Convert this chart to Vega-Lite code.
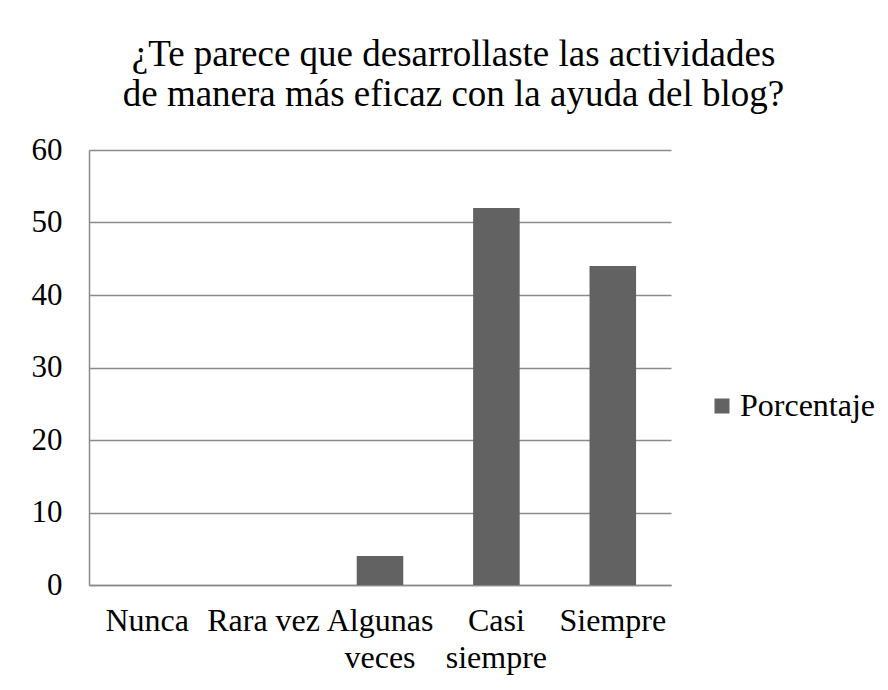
{
  "$schema": "https://vega.github.io/schema/vega-lite/v6.json",
  "width": 582,
  "height": 435,
  "autosize": {"type": "none"},
  "padding": {"left": 89, "top": 150, "right": 217, "bottom": 105},
  "background": "white",
  "title": {
    "text": ["¿Te parece que desarrollaste las actividades", "de manera más eficaz con la ayuda del blog?"],
    "font": "Liberation Serif",
    "fontSize": 37,
    "fontWeight": "normal",
    "lineHeight": 40,
    "color": "black",
    "anchor": "middle",
    "frame": "bounds",
    "offset": 20
  },
  "data": {
    "values": [
      {"categoria": "Nunca", "porcentaje": 0},
      {"categoria": "Rara vez", "porcentaje": 0},
      {"categoria": "Algunas veces", "porcentaje": 4},
      {"categoria": "Casi siempre", "porcentaje": 52},
      {"categoria": "Siempre", "porcentaje": 44}
    ]
  },
  "mark": {"type": "bar"},
  "encoding": {
    "x": {
      "field": "categoria",
      "type": "nominal",
      "sort": null,
      "scale": {"paddingInner": 0.6, "paddingOuter": 0.3},
      "axis": {
        "title": null,
        "labelAngle": 0,
        "labelFont": "Liberation Serif",
        "labelFontSize": 32,
        "labelColor": "black",
        "labelLineHeight": 37,
        "labelPadding": 20,
        "labelOverlap": false,
        "labelBound": false,
        "labelLimit": 0,
        "ticks": false,
        "domainColor": "#8a8a8a",
        "domainWidth": 1.5,
        "labelExpr": "datum.label == 'Algunas veces' ? ['Algunas', 'veces'] : datum.label == 'Casi siempre' ? ['Casi', 'siempre'] : datum.label"
      }
    },
    "y": {
      "field": "porcentaje",
      "type": "quantitative",
      "scale": {"domain": [0, 60], "nice": false},
      "axis": {
        "title": null,
        "values": [0, 10, 20, 30, 40, 50, 60],
        "grid": true,
        "gridColor": "#8a8a8a",
        "gridWidth": 1.5,
        "ticks": false,
        "domainColor": "#8a8a8a",
        "domainWidth": 1.5,
        "labelFont": "Liberation Serif",
        "labelFontSize": 31,
        "labelColor": "black",
        "labelPadding": 27,
        "labelBound": false,
        "labelFlush": false
      }
    },
    "color": {
      "datum": "Porcentaje",
      "type": "nominal",
      "scale": {"range": ["#626262"]},
      "legend": {
        "title": null,
        "orient": "none",
        "legendX": 617,
        "legendY": 240,
        "symbolType": "square",
        "symbolSize": 225,
        "symbolStrokeWidth": 0,
        "labelFont": "Liberation Serif",
        "labelFontSize": 32,
        "labelColor": "black",
        "labelOffset": 2,
        "labelLimit": 0,
        "padding": 0
      }
    }
  },
  "config": {"view": {"stroke": null}}
}
